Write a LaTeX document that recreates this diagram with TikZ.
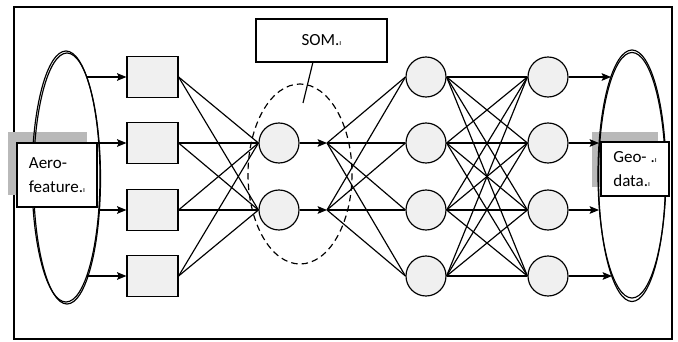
\documentclass[tikz,border=0pt]{standalone}
\usepackage{fontspec}
\setmainfont{Carlito}
\usetikzlibrary{arrows.meta}
\newcommand{\pmk}{{\fontsize{7}{7}\selectfont ı}}
\tikzset{
	sqnode/.style={draw,fill=gray!12,minimum width=1.53cm,minimum height=1.23cm,inner sep=0pt},
	neuron/.style={circle,draw,fill=gray!12,minimum size=1.2cm,inner sep=0pt},
	labelbox/.style={draw,fill=white,align=left,inner sep=0pt,font=\fontsize{14.5}{20}\selectfont},
	greypad/.style={fill=gray!55,draw=none}
}
\begin{document}
\begin{tikzpicture}[>={Stealth[length=8pt,width=6.5pt,inset=1.5pt]},x=0.03cm,y=-0.03cm,line width=1pt]
	\useasboundingbox (0,0) rectangle (678,342);
	\draw[line width=1.3pt] (14,7) rectangle (672,339);
	\fill[greypad] (8,132) rectangle (87,195);
	\fill[greypad] (592,132) rectangle (658,187);
	% input and output sets
	\draw (66,176.5) ellipse [x radius=34,y radius=125.5];
	\draw (67,178.5) ellipse [x radius=33.5,y radius=125.5];
	\draw (632,174) ellipse [x radius=34,y radius=124];
	\draw (632,177) ellipse [x radius=33.5,y radius=124.5];
	% layers
	\foreach \i/\y in {1/77,2/143,3/210,4/276}{
		\node[sqnode] (q\i) at (152.5,\y) {};
		\node[neuron] (h\i) at (426,\y) {};
		\node[neuron] (o\i) at (548,\y) {};
	}
	\node[neuron] (s1) at (279,143) {};
	\node[neuron] (s2) at (279,210) {};
	\foreach \i/\xa/\xb/\y in {1/87/611/77,2/99/599/143,3/99/599/210,4/87/612/276}{
		\coordinate (a\i) at (\xa,\y);
		\coordinate (b\i) at (\xb,\y);
	}
	\coordinate (t1) at (327,143);
	\coordinate (t2) at (327,210);
	% connections
	\foreach \i in {1,...,4}{
		\draw[->] (a\i) -- (q\i);
		\draw[->] (o\i) -- (b\i);
		\foreach \j in {1,2} \draw (q\i.east) -- (s\j.west);
		\foreach \j in {1,...,4} \draw (h\i.east) -- (o\j.west);
	}
	\foreach \j in {1,2}{
		\draw[->] (s\j) -- (t\j);
		\foreach \i in {1,...,4} \draw (t\j) -- (h\i.west);
	}
	\draw[dashed,dash pattern=on 5.5pt off 3.5pt] (300,174) ellipse [x radius=52,y radius=90];
	% labels
	\node[labelbox,minimum width=2.4cm,minimum height=1.92cm] (aero) at (57,175) {Aero-\\feature.\pmk};
	\node[labelbox,minimum width=2.04cm,minimum height=1.62cm] (geo) at (635,169) {Geo- .\pmk\\data.\pmk};
	\node[labelbox,minimum width=3.93cm,minimum height=1.29cm] (som) at (321.5,40.5) {SOM.\pmk};
	\coordinate (somtip) at (303,103);
	\draw ([xshift=-0.26cm]som.south) -- (somtip);
\end{tikzpicture}
\end{document}
